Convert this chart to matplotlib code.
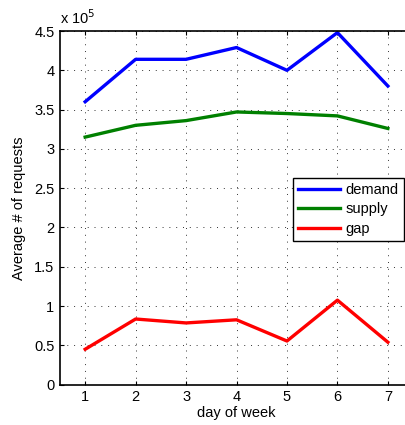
import numpy as np
import matplotlib
matplotlib.use("Agg")
import matplotlib.pyplot as plt

plt.rcParams["font.family"] = ["Liberation Sans", "DejaVu Sans"]
plt.rcParams["font.size"] = 10

days = [1, 2, 3, 4, 5, 6, 7]
demand = [360000, 414000, 414000, 429000, 400000, 448000, 380000]
supply = [315000, 330000, 336000, 347000, 345000, 342000, 326000]
gap = [45000, 83500, 78500, 82500, 55500, 107500, 54000]

scale = 1e5

fig = plt.figure(figsize=(4.05, 4.25), dpi=100)
ax = fig.add_axes([0.148, 0.095, 0.872, 0.832])

ax.plot(days, np.array(demand) / scale, color="#0000ff", lw=2.4, label="demand")
ax.plot(days, np.array(supply) / scale, color="#008000", lw=2.4, label="supply")
ax.plot(days, np.array(gap) / scale, color="#ff0000", lw=2.4, label="gap")

ax.set_xlim(0.5, 7.5)
ax.set_ylim(0, 4.5)
ax.set_xticks(days)
ax.set_yticks(np.arange(0, 4.51, 0.5))
ax.set_yticklabels(["0", "0.5", "1", "1.5", "2", "2.5", "3", "3.5", "4", "4.5"])

ax.grid(True, color="#333333", linestyle=(0, (1, 6)), linewidth=0.7)
ax.tick_params(direction="in", top=True, right=True, length=3, width=0.8,
               labelsize=10.5, pad=4)
for s in ax.spines.values():
    s.set_linewidth(1.2)

ax.set_xlabel("day of week", fontsize=10.5, labelpad=1)
ax.set_ylabel("Average # of requests", fontsize=10.5, labelpad=6)
ax.text(0.0, 1.012, r"x 10$^{5}$", transform=ax.transAxes, fontsize=10.5,
        ha="left", va="bottom")

leg = ax.legend(loc="upper left", bbox_to_anchor=(0.66, 0.585), fontsize=10.5,
                fancybox=False, framealpha=1, edgecolor="black",
                handlelength=2.9, borderpad=0.35, labelspacing=0.38,
                handletextpad=0.35, borderaxespad=0)
leg.get_frame().set_linewidth(1.0)

fig.savefig("out.png", dpi=100)
